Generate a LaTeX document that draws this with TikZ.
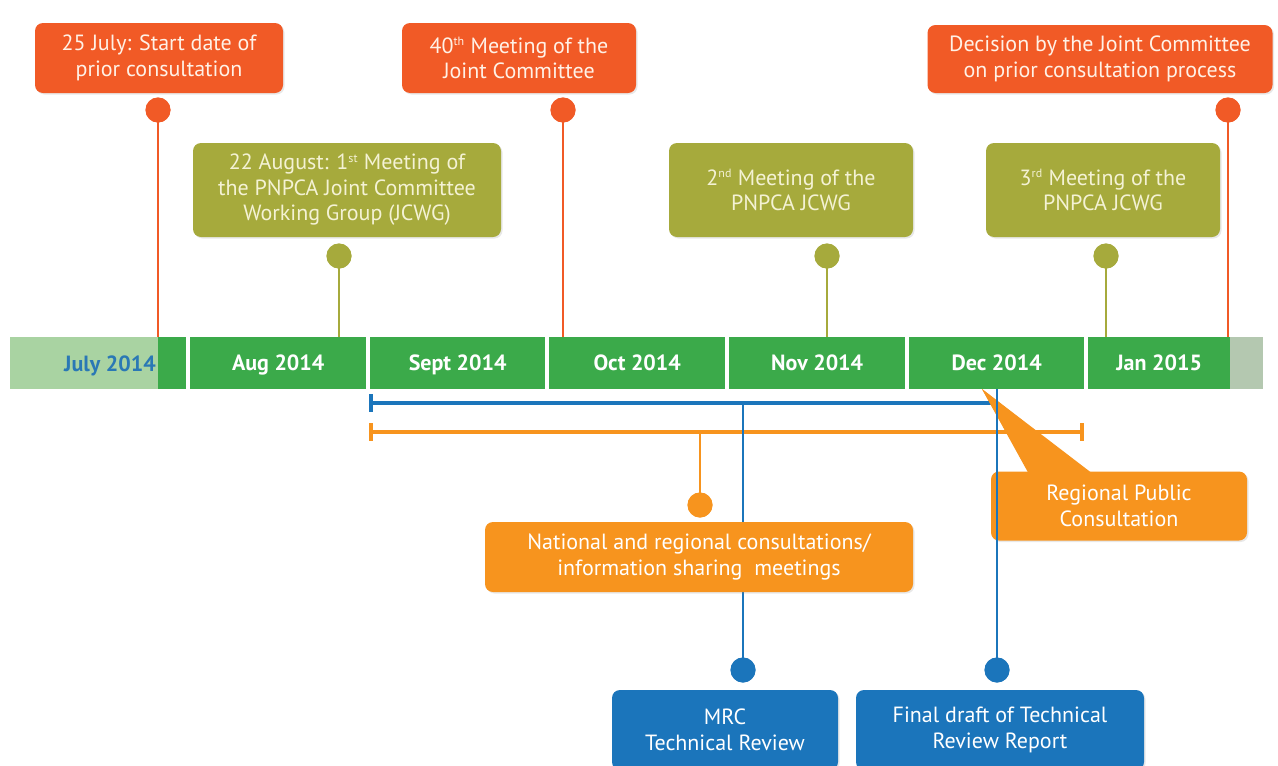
\documentclass[tikz,border=0pt]{standalone}
\usepackage{fontspec}
\setmainfont{PT Sans}
\usetikzlibrary{shadows,calc}
\definecolor{cred}{HTML}{F15A26}
\definecolor{colive}{HTML}{A6AA3C}
\definecolor{corange}{HTML}{F7941E}
\definecolor{cblue}{HTML}{1B75BB}
\definecolor{barg}{HTML}{3BAA4A}
\definecolor{barlight}{HTML}{A9D3A2}
\definecolor{bargray}{HTML}{B4C8B0}
\definecolor{julyblue}{HTML}{2A78B5}
\definecolor{olivetext}{HTML}{F4F2D4}
\definecolor{redtext}{HTML}{FFF1E6}
\newcommand{\sups}[1]{\textsuperscript{\fontsize{12}{12}\selectfont #1}}
\begin{document}
\begin{tikzpicture}[x=1pt,y=-1pt,
  box/.style={rounded corners=8pt, align=center, inner sep=0pt, text=white,
    font=\fontsize{22}{25.5}\selectfont,
    drop shadow={opacity=0.18, shadow xshift=1.5pt, shadow yshift=-1.5pt}},
  dot/.style={circle, inner sep=0pt, minimum size=25pt},
  seg/.style={fill=barg, minimum height=52pt, inner sep=0pt, text=white,
    text height=15.5pt, text depth=0pt,
    font=\bfseries\fontsize{22}{24}\selectfont, anchor=west},
  stem/.style={line width=2.6pt},
  bracket/.style={line width=3.4pt}]
\useasboundingbox (0,0) rectangle (1278,766);
\fill[white] (0,0) rectangle (1278,766);

% ---- timeline bar ----
\node[seg, fill=barlight, minimum width=148pt] (julL) at (10,363) {};
\node[seg, minimum width=28pt] (jul) at (158,363) {};
\node[anchor=east, text=julyblue, font=\bfseries\fontsize{22}{24}\selectfont, inner sep=0pt,
  text height=15.5pt, text depth=0pt] (jult) at (156,364) {July 2014};
\node[seg, minimum width=176pt] (aug) at (190,363) {Aug 2014};
\node[seg, minimum width=175pt] (sep) at (370,363) {Sept 2014};
\node[seg, minimum width=176pt] (oct) at (549,363) {Oct 2014};
\node[seg, minimum width=176pt] (nov) at (729,363) {Nov 2014};
\node[seg, minimum width=175pt] (dec) at (909,363) {Dec 2014};
\node[seg, minimum width=142pt] (jan) at (1088,363) {Jan 2015};
\node[seg, fill=bargray, minimum width=33pt] (grayend) at (1230,363) {};
\coordinate (bartop) at (0,337);
\coordinate (barbot) at (0,389);

% ---- dots ----
\node[dot, fill=cred] (r1d) at (158,110) {};
\node[dot, fill=cred] (r2d) at (563,110) {};
\node[dot, fill=cred] (r3d) at (1228,110) {};
\node[dot, fill=colive] (g1d) at (339,256) {};
\node[dot, fill=colive] (g2d) at (827,256) {};
\node[dot, fill=colive] (g3d) at (1106,256) {};
\node[dot, fill=corange] (o1d) at (700,505) {};
\node[dot, fill=cblue] (bl1d) at (743,670) {};
\node[dot, fill=cblue] (bl2d) at (997,670) {};

% ---- stems to bar ----
\draw[stem, cred] (r1d.center) -- (r1d |- bartop);
\draw[stem, cred] (r2d.center) -- (r2d |- bartop);
\draw[stem, cred] (r3d.center) -- (r3d |- bartop);
\draw[stem, colive] (g1d.center) -- (g1d |- bartop);
\draw[stem, colive] (g2d.center) -- (g2d |- bartop);
\draw[stem, colive] (g3d.center) -- (g3d |- bartop);
\node[dot, fill=cred] at (r1d) {};
\node[dot, fill=cred] at (r2d) {};
\node[dot, fill=cred] at (r3d) {};
\node[dot, fill=colive] at (g1d) {};
\node[dot, fill=colive] at (g2d) {};
\node[dot, fill=colive] at (g3d) {};

% ---- brackets below the bar ----
\coordinate (bL) at (371,403);
\coordinate (bR) at (997,403);
\coordinate (oL) at (371,432);
\coordinate (oR) at (1082,432);
\draw[bracket, cblue] (bL) -- (bR);
\draw[bracket, cblue] ($(bL)+(0,-9)$) -- ($(bL)+(0,9)$);
\draw[bracket, corange] (oL) -- (oR);
\draw[bracket, corange] ($(oL)+(0,-9)$) -- ($(oL)+(0,9)$);
\draw[bracket, corange] ($(oR)+(0,-9)$) -- ($(oR)+(0,9)$);
\draw[stem, corange] (o1d |- oL) -- (o1d.center);
\node[dot, fill=corange] at (o1d) {};
\draw[stem, cblue] (bl1d |- bL) -- (bl1d.center);
\node[dot, fill=cblue] at (bl1d) {};

% ---- top boxes ----
\node[box, fill=cred, text=redtext, minimum width=248pt, minimum height=70pt] (b1) at (159,58)
  {25 July: Start date of\\prior consultation};
\node[box, fill=cred, text=redtext, minimum width=234pt, minimum height=70pt] (b2) at (519,58)
  {40\sups{th} Meeting of the\\Joint Committee};
\node[box, fill=cred, text=redtext, minimum width=345pt, minimum height=68pt] (b3) at (1100,59)
  {Decision by the Joint Committee\\on prior consultation process};
\node[box, fill=colive, text=olivetext, minimum width=308pt, minimum height=94pt] (g1) at (347,190)
  {22 August: 1\sups{st} Meeting of\\the PNPCA Joint Committee\\Working Group (JCWG)};
\node[box, fill=colive, text=olivetext, minimum width=244pt, minimum height=94pt] (g2) at (791,190)
  {2\sups{nd} Meeting of the\\PNPCA JCWG};
\node[box, fill=colive, text=olivetext, minimum width=234pt, minimum height=94pt] (g3) at (1103,190)
  {3\sups{rd} Meeting of the\\PNPCA JCWG};

% ---- lower boxes ----
\node[box, fill=corange, minimum width=428pt, minimum height=70pt] (o1) at (699,557)
  {National and regional consultations/\\information sharing\ \ meetings};
\coordinate (apex) at (982,389);
\fill[corange] (apex) -- (1030,474) -- (1093,474) -- cycle;
\node[box, fill=corange, minimum width=256pt, minimum height=69pt] (o2) at (1119,506)
  {Regional Public\\Consultation};
\fill[corange] (apex) -- (1030,476) -- (1093,476) -- cycle;
\draw[stem, cblue] (bl2d |- barbot) -- (bl2d.center);
\node[dot, fill=cblue] at (bl2d) {};
\node[box, fill=cblue, minimum width=226pt, minimum height=80pt] (bl1) at (725,730)
  {MRC\\Technical Review};
\node[box, fill=cblue, minimum width=288pt, minimum height=80pt] (bl2) at (1000,730)
  {Final draft of Technical\\Review Report};
\end{tikzpicture}
\end{document}
